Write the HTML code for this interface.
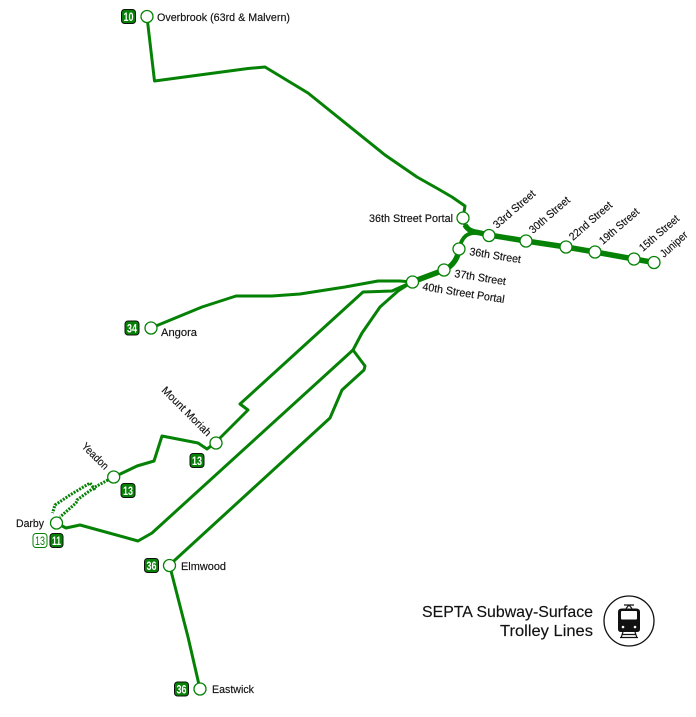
<!DOCTYPE html>
<html>
<head>
<meta charset="utf-8">
<style>
html,body{margin:0;padding:0;background:#fff}
svg{display:block}
text{font-family:"Liberation Sans",sans-serif;font-size:11px;fill:#111;stroke:#111;stroke-width:.15}
.l{fill:none;stroke:#058205;stroke-width:3;stroke-linejoin:round;stroke-linecap:round}
.t{fill:none;stroke:#058205;stroke-width:5.5;stroke-linejoin:round}
.d{fill:none;stroke:#058205;stroke-width:3;stroke-dasharray:2 1.2}
.s{fill:#fff;stroke:#058205;stroke-width:1.3}
.b{fill:#058205;stroke:#111;stroke-width:1}
.bo{fill:#fff;stroke:#058205;stroke-width:1}
.n{fill:#fff;stroke:none;font-size:12px;font-weight:bold;text-anchor:middle}
.no{fill:#058205;stroke:none;font-size:12px;text-anchor:middle}
</style>
</head>
<body>
<svg width="696" height="717" viewBox="0 0 696 717" xmlns="http://www.w3.org/2000/svg">
<path class="l" d="M147 17L154.500 81L248 68.500L265 67L308 93L385 155L417 177L440 190L452 197L465 206L463 218"/>
<path class="l" d="M151 328L202 307L236 296L272 296L300 294L345 287L378 281L400 281L412 282"/>
<path class="l" d="M412 282L392 291L363 292L240 404L248 410L221 437L215 443L207 449L198 443L162 436L154 461L137 466L114 477"/>
<path class="l" d="M56.500 523L66 528L80 525L138 541L152 533L353 350L362 333L380 307L398 291L412 282"/>
<path class="l" d="M353 350L365 366L364 370L342 390L330 418L169.500 565L188 637L200 689"/>
<path class="d" d="M108 480L95 487L77 500L76 503L60 517"/>
<path class="d" d="M95 490L90 483L70 495L55 505L52.500 513"/>
<path class="t" d="M465 225C468 230 472 232 478 232.500L489 235L526 241L566 247L595 252L634 259L654 262.500"/>
<path class="l" d="M463 218L465 226"/>
<path class="t" style="stroke-width:4" d="M478 233C468 232 462 236 459 249"/>
<path class="t" d="M459 249C458 258 453 266 444 270L412 282"/>

<circle class="s" cx="147" cy="16.500" r="6"/>
<circle class="s" cx="151" cy="328" r="6"/>
<circle class="s" cx="216" cy="443" r="6"/>
<circle class="s" cx="113.700" cy="477" r="6"/>
<circle class="s" cx="56.500" cy="523" r="6"/>
<circle class="s" cx="169.500" cy="565.500" r="6"/>
<circle class="s" cx="200" cy="689" r="6"/>
<circle class="s" cx="463" cy="218" r="6"/>
<circle class="s" cx="489" cy="235.500" r="6"/>
<circle class="s" cx="526" cy="241" r="6"/>
<circle class="s" cx="566" cy="247" r="6"/>
<circle class="s" cx="595" cy="252" r="6"/>
<circle class="s" cx="634" cy="259" r="6"/>
<circle class="s" cx="654" cy="262.500" r="6"/>
<circle class="s" cx="459" cy="249" r="6"/>
<circle class="s" cx="444" cy="270" r="6"/>
<circle class="s" cx="412.500" cy="282" r="6"/>

<rect class="b" x="121.500" y="9.500" width="14" height="14" rx="3"/>
<text class="n" x="128.500" y="21" textLength="10" lengthAdjust="spacingAndGlyphs">10</text>
<rect class="b" x="125" y="321" width="14" height="14" rx="3"/>
<text class="n" x="132" y="332.500" textLength="10" lengthAdjust="spacingAndGlyphs">34</text>
<rect class="b" x="190" y="453.500" width="14" height="14" rx="3"/>
<text class="n" x="197" y="465" textLength="10" lengthAdjust="spacingAndGlyphs">13</text>
<rect class="b" x="121" y="483.500" width="14" height="14" rx="3"/>
<text class="n" x="128" y="495" textLength="10" lengthAdjust="spacingAndGlyphs">13</text>
<rect class="bo" x="33" y="533.500" width="14" height="14" rx="3"/>
<text class="no" x="40" y="545" textLength="10" lengthAdjust="spacingAndGlyphs">13</text>
<rect class="b" x="50" y="533.500" width="13" height="14" rx="3"/>
<text class="n" x="56.500" y="545" textLength="9" lengthAdjust="spacingAndGlyphs">11</text>
<rect class="b" x="144.500" y="558.500" width="14" height="14" rx="3"/>
<text class="n" x="151.500" y="570" textLength="10" lengthAdjust="spacingAndGlyphs">36</text>
<rect class="b" x="174.500" y="682" width="14" height="14" rx="3"/>
<text class="n" x="181.500" y="693.500" textLength="10" lengthAdjust="spacingAndGlyphs">36</text>

<text x="157" y="21" textLength="133" lengthAdjust="spacingAndGlyphs">Overbrook (63rd &amp; Malvern)</text>
<text x="161" y="336" textLength="36" lengthAdjust="spacingAndGlyphs">Angora</text>
<text x="16" y="527" textLength="28" lengthAdjust="spacingAndGlyphs">Darby</text>
<text x="181" y="570" textLength="45" lengthAdjust="spacingAndGlyphs">Elmwood</text>
<text x="212" y="693" textLength="42" lengthAdjust="spacingAndGlyphs">Eastwick</text>
<text x="369" y="222" textLength="84" lengthAdjust="spacingAndGlyphs">36th Street Portal</text>

<text transform="translate(497 229) rotate(-41)" textLength="52" lengthAdjust="spacingAndGlyphs">33rd Street</text>
<text transform="translate(533 234) rotate(-41)" textLength="50" lengthAdjust="spacingAndGlyphs">30th Street</text>
<text transform="translate(573 241) rotate(-41)" textLength="53" lengthAdjust="spacingAndGlyphs">22nd Street</text>
<text transform="translate(603 245) rotate(-41)" textLength="49" lengthAdjust="spacingAndGlyphs">19th Street</text>
<text transform="translate(643 252) rotate(-41)" textLength="49" lengthAdjust="spacingAndGlyphs">15th Street</text>
<text transform="translate(664 258) rotate(-42)" textLength="33" lengthAdjust="spacingAndGlyphs">Juniper</text>
<text transform="translate(469 255) rotate(9)" textLength="52" lengthAdjust="spacingAndGlyphs">36th Street</text>
<text transform="translate(454 277) rotate(9)" textLength="52" lengthAdjust="spacingAndGlyphs">37th Street</text>
<text transform="translate(422 290) rotate(9)" textLength="83" lengthAdjust="spacingAndGlyphs">40th Street Portal</text>
<text transform="translate(161 391) rotate(45)" textLength="65" lengthAdjust="spacingAndGlyphs">Mount Moriah</text>
<text transform="translate(81 447) rotate(45)" textLength="33" lengthAdjust="spacingAndGlyphs">Yeadon</text>

<text x="593" y="617" text-anchor="end" style="font-size:16px" textLength="171" lengthAdjust="spacingAndGlyphs">SEPTA Subway-Surface</text>
<text x="593" y="636" text-anchor="end" style="font-size:16px" textLength="93" lengthAdjust="spacingAndGlyphs">Trolley Lines</text>

<circle cx="629" cy="621" r="25" fill="#fff" stroke="#111" stroke-width="1.300"/>
<path d="M624 605H634M629 605L626 608.500M629 605L632 608.500" fill="none" stroke="#111" stroke-width="1.200"/>
<path d="M622 608.500H636Q640 608.500 640 612V629Q640 632 637 632H621Q618 632 618 629V612Q618 608.500 622 608.500Z" fill="#111"/>
<rect x="621" y="611" width="16" height="8.500" rx="1" fill="#fff"/>
<circle cx="623" cy="627" r="1.300" fill="#fff"/>
<circle cx="635" cy="627" r="1.300" fill="#fff"/>
<path d="M623 632L621 638M635 632L637 638M621.500 634.500H636.500M620 637.500H638" fill="none" stroke="#111" stroke-width="1.200"/>
</svg>
</body>
</html>
